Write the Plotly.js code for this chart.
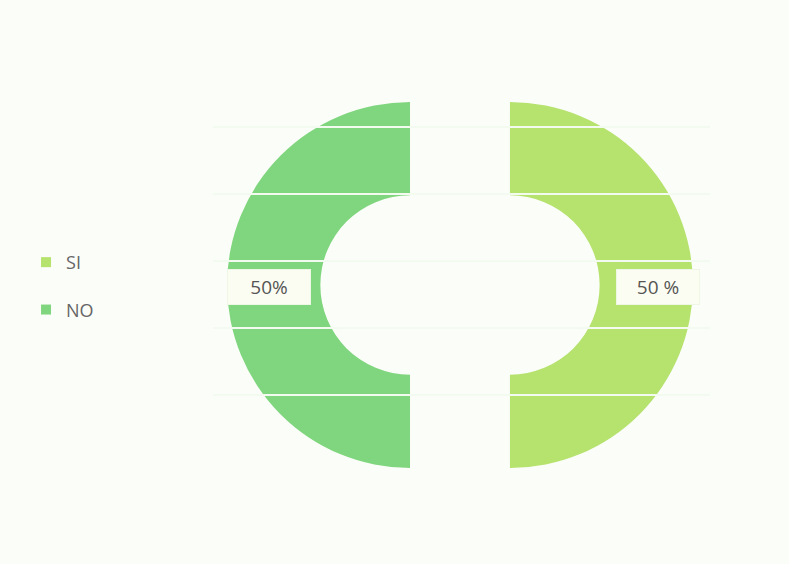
<!DOCTYPE html>
<html>
<head>
<meta charset="utf-8">
<script src="https://cdn.plot.ly/plotly-3.0.1.min.js"></script>
<style>html,body{margin:0;padding:0;background:#fbfdf9;}#chart{width:789px;height:564px;}</style>
</head>
<body>
<div id="chart"></div>
<script>
// Data
var categories = ['SI', 'NO'];
var values = [50, 50];
var colors = ['#b6e26e', '#80d67e'];
var pctSuffix = [' %', '%'];

var total = values.reduce(function (a, b) { return a + b; }, 0);
var pctText = values.map(function (v, i) { return Math.round(v / total * 100) + pctSuffix[i]; });

var pie = {
  type: 'pie',
  labels: categories,
  values: values,
  sort: false,
  direction: 'clockwise',
  rotation: 0,
  hole: 0.49,
  pull: [0.273, 0.273],
  marker: { colors: colors, line: { width: 0 } },
  textinfo: 'none',
  hoverinfo: 'label+percent',
  showlegend: false,
  domain: { x: [0.2535, 0.9125], y: [0.0816, 0.9078] }
};

// legend entries (one per category)
var legendTraces = categories.map(function (c, i) {
  return {
    type: 'scatter', mode: 'markers', x: [null], y: [null], name: c,
    legendgroup: 'g' + i, showlegend: true,
    marker: { symbol: 'square', size: 10, color: colors[i] },
    hoverinfo: 'skip'
  };
});

// label positions (SI on the right, NO on the left)
var labelPos = [{ x: 0.834 }, { x: 0.341 }];
var annotations = categories.map(function (c, i) {
  return {
    xref: 'paper', yref: 'paper', x: labelPos[i].x, y: 0.491,
    xanchor: 'center', yanchor: 'middle',
    text: pctText[i], showarrow: false,
    font: { family: 'Open Sans, Liberation Sans, sans-serif', size: 19, color: '#555555' },
    bgcolor: '#fcfdf2', bordercolor: '#eef7e4', borderwidth: 1,
    borderpad: 5, width: 72, height: 24
  };
});

var lineYpx = [127, 194, 261, 328, 395];
var shapes = lineYpx.map(function (py) {
  return {
    type: 'line', xref: 'paper', yref: 'paper', layer: 'above',
    x0: 0.27, x1: 0.9, y0: 1 - py / 564, y1: 1 - py / 564,
    line: { color: '#f3fbf1', width: 2 }
  };
});

var layout = {
  width: 789, height: 564,
  margin: { l: 0, r: 0, t: 0, b: 0 },
  paper_bgcolor: '#fbfdf9',
  plot_bgcolor: 'rgba(0,0,0,0)',
  xaxis: { visible: false }, yaxis: { visible: false },
  showlegend: true,
  legend: {
    x: 0.033, y: 0.493, xanchor: 'left', yanchor: 'middle',
    bgcolor: 'rgba(0,0,0,0)',
    font: { family: 'Open Sans, Liberation Sans, sans-serif', size: 18, color: '#666666' },
    tracegroupgap: 21, itemwidth: 30
  },
  annotations: annotations,
  shapes: shapes
};

Plotly.newPlot('chart', [pie].concat(legendTraces), layout, { displayModeBar: false, staticPlot: true });
</script>
</body>
</html>
